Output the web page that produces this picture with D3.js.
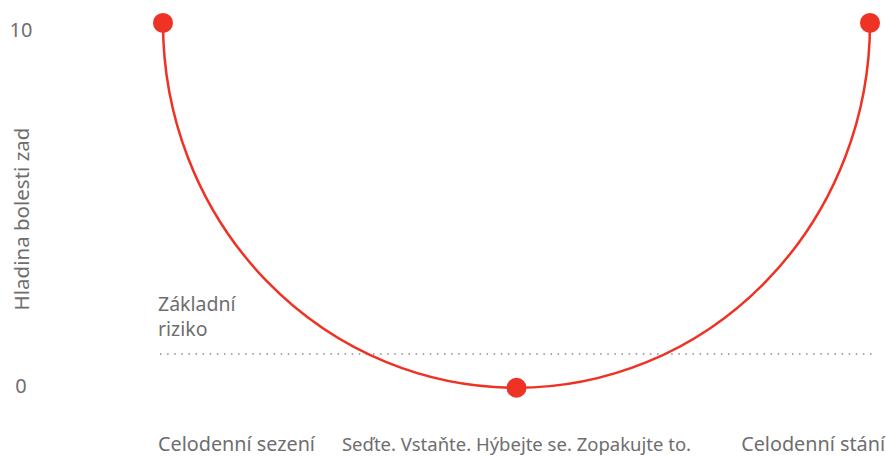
<!DOCTYPE html>
<html>
<head>
<meta charset="utf-8">
<script src="https://cdn.jsdelivr.net/npm/d3@7"></script>
<style>
  body { margin: 0; background: #fff; }
  text { font-family: "Source Sans Pro", "Noto Sans", sans-serif; fill: #6e6e6e; }
</style>
</head>
<body>
<div id="chart"></div>
<script>
// chart data
const categories = ['Celodenní sezení', 'Seďte. Vstaňte. Hýbejte se. Zopakujte to.', 'Celodenní stání'];
const painValues = [10.2, -0.05, 10.2];
const baselineValue = 0.9;
const baselineLabel = ['Základní', 'riziko'];
const yTicks = [0, 10];
const yTitle = 'Hladina bolesti zad';

const width = 887;
const height = 456;
const red = '#ee3224';

const svg = d3.select('#chart')
    .append('svg')
    .attr('width', width)
    .attr('height', height);

const x = d3.scalePoint()
    .domain(categories)
    .range([163, 870]);

const y = d3.scaleLinear()
    .domain([0, 10])
    .range([386, 30]);

// y tick labels
svg.selectAll('.ytick')
    .data(yTicks)
    .enter()
    .append('text')
    .attr('class', 'ytick')
    .attr('x', 21)
    .attr('y', d => y(d))
    .attr('dy', '0.35em')
    .attr('text-anchor', 'middle')
    .style('font-size', '20px')
    .text(d => d);

// y axis title
svg.append('text')
    .attr('transform', 'translate(29, 219) rotate(-90)')
    .attr('text-anchor', 'middle')
    .style('font-size', '20.5px')
    .text(yTitle);

// baseline risk
svg.append('line')
    .attr('x1', 160)
    .attr('x2', 876)
    .attr('y1', y(baselineValue))
    .attr('y2', y(baselineValue))
    .attr('stroke', '#8a8a8a')
    .attr('stroke-width', 1.5)
    .attr('stroke-dasharray', '1.5 5.6');

svg.selectAll('.baselabel')
    .data(baselineLabel)
    .enter()
    .append('text')
    .attr('class', 'baselabel')
    .attr('x', 158)
    .attr('y', (d, i) => y(baselineValue) - 43 + i * 25)
    .style('font-size', '19.5px')
    .text(d => d);

// curve: two quarter ellipse arcs through the three points
const pts = categories.map((c, i) => [x(c), y(painValues[i])]);
const rx1 = pts[1][0] - pts[0][0], ry1 = pts[1][1] - pts[0][1];
const rx2 = pts[2][0] - pts[1][0], ry2 = pts[1][1] - pts[2][1];
svg.append('path')
    .attr('d', `M${pts[0][0]},${pts[0][1]} A${rx1},${ry1} 0 0 0 ${pts[1][0]},${pts[1][1]} A${rx2},${ry2} 0 0 0 ${pts[2][0]},${pts[2][1]}`)
    .attr('fill', 'none')
    .attr('stroke', red)
    .attr('stroke-width', 2.5);

svg.selectAll('circle')
    .data(pts)
    .enter()
    .append('circle')
    .attr('cx', d => d[0])
    .attr('cy', d => d[1])
    .attr('r', 10)
    .attr('fill', red);

// x labels
svg.selectAll('.xlabel')
    .data(categories)
    .enter()
    .append('text')
    .attr('class', 'xlabel')
    .attr('x', (d, i) => i === 0 ? 158 : i === 2 ? 885 : x(d))
    .attr('y', 451)
    .attr('text-anchor', (d, i) => i === 0 ? 'start' : i === 2 ? 'end' : 'middle')
    .style('font-size', (d, i) => i === 1 ? '18.5px' : '19.8px')
    .text(d => d);
</script>
</body>
</html>
